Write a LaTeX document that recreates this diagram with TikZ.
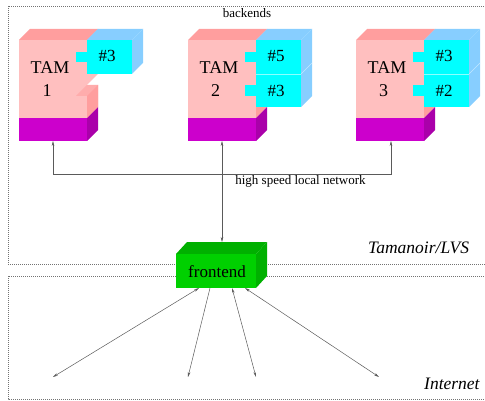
\documentclass[tikz,border=0pt]{standalone}
\usepackage{fontspec}
\setmainfont{Liberation Serif}
\usetikzlibrary{arrows.meta}
\definecolor{pinkF}{RGB}{255,191,191}
\definecolor{pinkT}{RGB}{255,158,158}
\definecolor{pinkH}{RGB}{255,172,172}
\definecolor{magF}{RGB}{204,0,204}
\definecolor{magS}{RGB}{170,0,170}
\definecolor{cyanF}{RGB}{0,255,255}
\definecolor{lblue}{RGB}{135,206,255}
\definecolor{greenF}{RGB}{0,208,0}
\definecolor{greenT}{RGB}{0,176,0}
\definecolor{netc}{RGB}{90,90,90}
\tikzset{
  net/.style={draw=netc, line width=0.5pt},
  tipboth/.style={{Stealth[length=5pt,width=2.6pt]}-{Stealth[length=5pt,width=2.6pt]}},
  tipend/.style={-{Stealth[length=5pt,width=2.6pt]}},
  zone/.style={draw=black!55, line width=0.6pt, dash pattern=on 1pt off 1pt},
  tamtxt/.style={font=\fontsize{18}{20}\selectfont, anchor=base, inner sep=0pt},
  numtxt/.style={font=\fontsize{17}{19}\selectfont, anchor=base, inner sep=0pt},
  smalltxt/.style={font=\fontsize{13}{15}\selectfont, anchor=base, inner sep=0pt},
  itxt/.style={font=\fontsize{17.5}{19}\selectfont\itshape, anchor=base west, inner sep=0pt}
}
\newcommand{\tambody}{%
  \fill[pinkT] (0,40) -- (11,29) -- (79,29) -- (68,40) -- cycle;
  \fill[pinkT] (68,40) -- (79,29) -- (79,107) -- (68,118) -- cycle;
  \fill[pinkF] (0,40) rectangle (68,118);
  \fill[magF] (0,118) rectangle (68,141);
  \fill[magS] (68,118) -- (79,107) -- (79,130) -- (68,141) -- cycle;
  \fill[lblue] (68,40) -- (79,29) -- (124,29) -- (113,40) -- cycle;
}
\begin{document}
\begin{tikzpicture}[x=1pt,y=-1pt]
\useasboundingbox (0,0) rectangle (485,401);
% zones
\draw[zone] (8,6) rectangle (520,264);
\draw[zone] (8,276) rectangle (520,399);

% TAM 1
\begin{scope}[shift={(19,0)}]
  \tambody
  \fill[white] (68,74) -- (80,74) -- (80,85) -- (68,85) -- cycle;
  \fill[pinkF] (68,74) -- (79,74) -- (68,85) -- cycle;
  \fill[pinkT] (68,96) -- (79,85) -- (79,107) -- (68,118) -- cycle;
  \fill[pinkH] (57,96) -- (68,85) -- (79,85) -- (68,96) -- cycle;
  \fill[lblue] (113,40) -- (124,29) -- (124,63) -- (113,74) -- cycle;
  \fill[cyanF] (68,40) rectangle (113,74);
  \fill[cyanF] (57,52) rectangle (68,62);
  \node[tamtxt] (tam1a) at (31,74) {TAM};
  \node[tamtxt] (tam1b) at (28,97) {1};
  \node[numtxt] (c13) at (88,62) {\#3};
\end{scope}

% TAM 2
\begin{scope}[shift={(188,0)}]
  \tambody
  \fill[lblue] (113,40) -- (124,29) -- (124,96) -- (113,107) -- cycle;
  \draw[white!50!lblue, line width=0.5pt] (113,74) -- (124,63);
  \fill[cyanF] (68,40) rectangle (113,107);
  \draw[white!55!cyanF, line width=0.5pt] (68,74) -- (113,74);
  \fill[cyanF] (57,52) rectangle (68,62);
  \fill[cyanF] (57,85) rectangle (68,96);
  \node[tamtxt] (tam2a) at (31,74) {TAM};
  \node[tamtxt] (tam2b) at (27.5,97) {2};
  \node[numtxt] (c25) at (88,62) {\#5};
  \node[numtxt] (c23) at (88,97) {\#3};
\end{scope}

% TAM 3
\begin{scope}[shift={(356,0)}]
  \tambody
  \fill[lblue] (113,40) -- (124,29) -- (124,96) -- (113,107) -- cycle;
  \draw[white!50!lblue, line width=0.5pt] (113,74) -- (124,63);
  \fill[cyanF] (68,40) rectangle (113,107);
  \draw[white!55!cyanF, line width=0.5pt] (68,74) -- (113,74);
  \fill[cyanF] (57,52) rectangle (68,62);
  \fill[cyanF] (57,85) rectangle (68,96);
  \node[tamtxt] (tam3a) at (31,74) {TAM};
  \node[tamtxt] (tam3b) at (27.5,97) {3};
  \node[numtxt] (c33) at (88,62) {\#3};
  \node[numtxt] (c32) at (88,97) {\#2};
\end{scope}

% frontend
\fill[greenT] (176,254) -- (187,242) -- (267,242) -- (256,254) -- cycle;
\fill[greenT] (256,254) -- (267,242) -- (267,276) -- (256,288) -- cycle;
\fill[greenF] (176,254) rectangle (256,288);
\node[numtxt] (fe) at (217,277) {frontend};

% labels
\node[smalltxt] (backends) at (247,18) {backends};
\node[smalltxt] (hsln) at (300.5,185) {high speed local network};
\node[itxt] (tlvs) at (368,254) {Tamanoir/LVS};
\node[itxt] (inet) at (424,389) {Internet};

% network
\coordinate (t1) at (53,141);
\coordinate (t2) at (222,141);
\coordinate (t3) at (391,141);
\coordinate (h1) at (53,174);
\coordinate (h3) at (391,174);
\coordinate (ft) at (222,242);
\draw[net,tipboth] (t1) -- (h1) -- (h3) -- (t3);
\draw[net,tipboth] (t2) -- (ft);

\coordinate (b1) at (199,288);
\coordinate (b2) at (210,288);
\coordinate (b3) at (232,288);
\coordinate (b4) at (245,288);
\coordinate (i1) at (53,377);
\coordinate (i2) at (188,377);
\coordinate (i3) at (256,377);
\coordinate (i4) at (379,377);
\draw[net,tipboth] (b1) -- (i1);
\draw[net,tipend] (b2) -- (i2);
\draw[net,tipboth] (b3) -- (i3);
\draw[net,tipboth] (b4) -- (i4);
\end{tikzpicture}
\end{document}
